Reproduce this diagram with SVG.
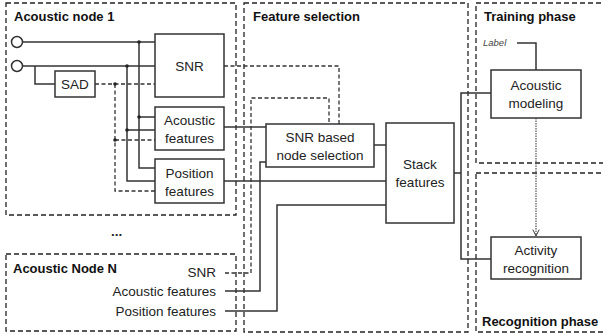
<svg xmlns="http://www.w3.org/2000/svg" width="603" height="335" viewBox="0 0 603 335">
<style>
.frame{fill:none;stroke:#222;stroke-width:1.3;stroke-dasharray:5,3}
.box{fill:#fff;stroke:#333;stroke-width:1.5}
.w{fill:none;stroke:#333;stroke-width:1.5}
.d{fill:none;stroke:#333;stroke-width:1.3;stroke-dasharray:4,2.5}
.dot{fill:#222}
.t{font-family:"Liberation Sans",Arial,sans-serif;font-size:13.5px;fill:#222}
.c{text-anchor:middle}
.r{text-anchor:end}
.h{font-family:"Liberation Sans",Arial,sans-serif;font-size:13px;font-weight:bold;fill:#111}
.lab{font-family:"Liberation Sans",Arial,sans-serif;font-size:9.5px;font-style:italic;fill:#444}
</style>
<defs>
<marker id="arr" viewBox="0 0 10 10" refX="9" refY="5" markerWidth="8" markerHeight="8" orient="auto" markerUnits="userSpaceOnUse">
<path d="M1,1 L9,5 L1,9" fill="none" stroke="#333" stroke-width="1.2"/>
</marker>
</defs>
<rect width="603" height="335" fill="#fff"/>

<g id="frames">
<rect id="acoustic-node-1" class="frame" x="6" y="3" width="230" height="212"/>
<rect id="feature-selection" class="frame" x="244" y="3" width="224" height="329"/>
<rect id="training-phase" class="frame" x="476" y="3" width="140" height="160"/>
<rect id="recognition-phase" class="frame" x="476" y="173" width="140" height="159"/>
<rect id="acoustic-node-n" class="frame" x="6" y="254" width="230" height="77"/>
</g>

<g id="connectors">
<!-- inputs -->
<path class="w" d="M23,42 H155"/>
<path class="w" d="M23,66 H155"/>
<path class="w" d="M35,66 V84 H55"/>
<path class="d" d="M95,84 H155"/>
<path class="w" d="M139,42 V168 H155 M139,117 H155"/>
<path class="w" d="M127,66 V181 H155 M127,130 H155"/>
<path class="d" d="M115,84 V191 H155 M115,140 H155"/>
<!-- outputs node 1 -->
<path class="d" d="M224,66 H339 V124"/>
<path class="w" d="M224,127 H266"/>
<path class="w" d="M224,181 H386"/>
<!-- node N -->
<path class="d" d="M225,273 H251 V98 H329 V124"/>
<path class="w" d="M225,291 H260 V162 H266"/>
<path class="w" d="M225,311 H277 V205 H386"/>
<!-- selection to stack -->
<path class="w" d="M374,145 H386"/>
<!-- stack to phases -->
<path class="w" d="M454,173 H461 M491,93 H461 V259 H491"/>
<!-- label -->
<path class="w" d="M517,43 H536 V70"/>
<!-- model to recognition -->
<path fill="none" stroke="#555" stroke-width="1.2" stroke-dasharray="1.5,1" d="M536,118 V236" marker-end="url(#arr)"/>
<circle class="dot" cx="139" cy="42" r="1.8"/>
<circle class="dot" cx="127" cy="66" r="1.8"/>
<circle class="dot" cx="115" cy="84" r="1.8"/>
<circle class="dot" cx="139" cy="117" r="1.8"/>
<circle class="dot" cx="127" cy="130" r="1.8"/>
<circle class="dot" cx="115" cy="140" r="1.8"/>
</g>

<g id="in1"><circle cx="17" cy="42" r="5.5" fill="#fff" stroke="#333" stroke-width="1.5"/></g>
<g id="in2"><circle cx="17" cy="66" r="5.5" fill="#fff" stroke="#333" stroke-width="1.5"/></g>

<g id="snr"><rect class="box" x="155" y="34" width="69" height="63"/><text class="t c" x="189.5" y="71">SNR</text></g>
<g id="sad"><rect class="box" x="55" y="71" width="40" height="26"/><text class="t c" x="75" y="89">SAD</text></g>
<g id="acoustic-features"><rect class="box" x="155" y="107" width="69" height="43"/><text class="t c" x="189.5" y="125">Acoustic</text><text class="t c" x="189.5" y="143">features</text></g>
<g id="position-features"><rect class="box" x="155" y="159" width="69" height="44"/><text class="t c" x="189.5" y="178">Position</text><text class="t c" x="189.5" y="196">features</text></g>

<g id="snr-selection"><rect class="box" x="266" y="124" width="108" height="43"/><text class="t c" x="320" y="142">SNR based</text><text class="t c" x="320" y="160">node selection</text></g>
<g id="stack"><rect class="box" x="386" y="123" width="68" height="100"/><text class="t c" x="420" y="169">Stack</text><text class="t c" x="420" y="187">features</text></g>
<g id="acoustic-modeling"><rect class="box" x="491" y="70" width="90" height="48"/><text class="t c" x="536" y="90">Acoustic</text><text class="t c" x="536" y="108">modeling</text></g>
<g id="activity-recognition"><rect class="box" x="491" y="237" width="90" height="42"/><text class="t c" x="536" y="255">Activity</text><text class="t c" x="536" y="273">recognition</text></g>

<g id="labels">
<text class="h" x="14" y="21">Acoustic node 1</text>
<text class="h" x="253" y="21">Feature selection</text>
<text class="h" x="484" y="21">Training phase</text>
<text class="h" x="482" y="326">Recognition phase</text>
<text class="h" x="13" y="273">Acoustic Node N</text>
<text class="t" x="111" y="236" font-weight="bold">...</text>
<text class="lab" x="483" y="46">Label</text>
<text class="t r" x="216" y="277">SNR</text>
<text class="t r" x="216" y="296">Acoustic features</text>
<text class="t r" x="216" y="316">Position features</text>
</g>
</svg>
